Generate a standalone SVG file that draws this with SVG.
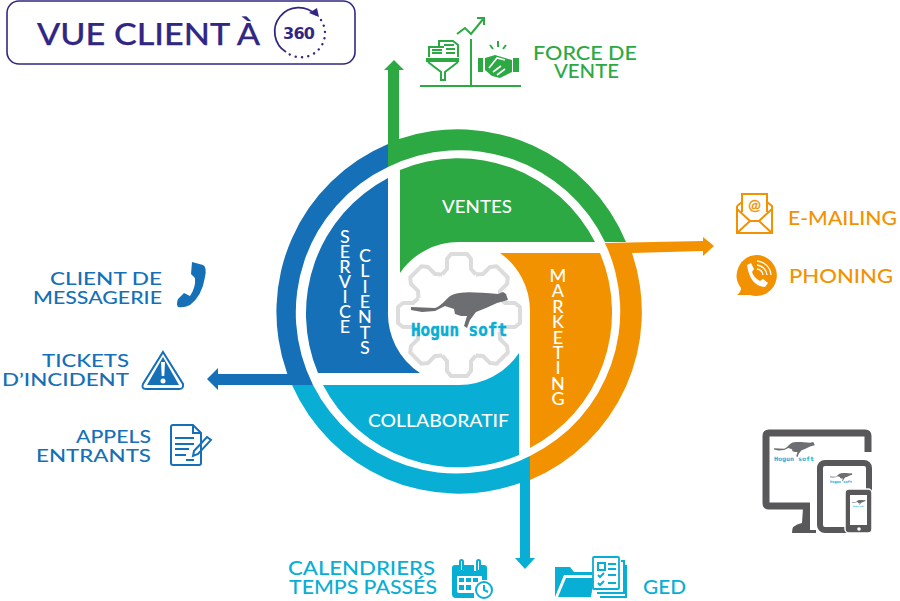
<svg xmlns="http://www.w3.org/2000/svg" xmlns:xlink="http://www.w3.org/1999/xlink" width="900" height="601" viewBox="0 0 900 601">
<style>
text{font-family:"Lato","Open Sans","Liberation Sans",sans-serif;font-weight:500}
.w{fill:#fff;font-size:17.500px}
.v{fill:#fff;font-size:18px;text-anchor:middle}
.g{fill:#2ca942}.b{fill:#1570b8}.o{fill:#f39200}.c{fill:#09aed4}
.lb{font-size:18px;fill:#1570b8;text-anchor:end}
.lg{font-size:19px;fill:#2ca942}
.lo{font-size:20px;fill:#f39200}
.lc{font-size:18.500px;fill:#09aed4}
.sb{stroke:#1570b8;fill:none;stroke-width:2}
.sg{stroke:#2ca942;fill:none;stroke-width:2}
.so{stroke:#f39200;fill:none;stroke-width:2}
.sc{stroke:#09aed4;fill:none;stroke-width:2}
.logo{font-family:"DejaVu Sans Mono",monospace;font-weight:700;fill:#09aed4}
.d{fill:none;stroke:#58585a;stroke-linejoin:round}
.t{fill:none;stroke:#dcdcdc;stroke-width:4;stroke-linejoin:round}
</style>
<defs>
<path id="cheetah" fill="#6d6e71" d="M411,307L435,308C442,306 446,298 452,295C460,291 475,292 498,294L503,292L506,294L508,300L497,303L486,308L476,312L470,320L467,328L464,326L467,316L461,316L455,314L454,309L445,306L435,311L422,312L411,310Z"/>
<path id="tooth" d="M-16.800,-40.600L-12,-46V-56L-8,-61H8L12,-56V-46L16.800,-40.600"/>
</defs>

<g id="title">
<rect x="7" y="1" width="348" height="63" rx="12" fill="#fff" stroke="#312783" stroke-width="1.600"/>
<text x="37" y="45" font-size="31" fill="#312783" stroke="#312783" stroke-width=".25" textLength="223" lengthAdjust="spacingAndGlyphs">VUE CLIENT À</text>
<path d="M286,52A24,24 0 1 1 316,15" fill="none" stroke="#312783" stroke-width="1.800"/>
<path d="M321,20A24,24 0 0 1 286,52" fill="none" stroke="#312783" stroke-width="2.400" stroke-linecap="round" stroke-dasharray=".1 6.200"/>
<path d="M309,13L319,17L317,8Z" fill="#312783"/>
<text x="299" y="39" font-size="16" fill="#312783" text-anchor="middle" style="font-family:'DejaVu Sans',sans-serif;font-weight:700" textLength="32">360</text>
</g>

<g id="connectors">
<path class="g" d="M388,167V70H384L394,60L404,70H399V145H388Z"/>
<path class="o" d="M605,243L703,241V237L714,246L703,256V251L632,253L612,256Z"/>
<path class="c" d="M520,478H530V558H535L525,569L515,558H520Z"/>
<path class="b" d="M300,374H218V368L207,379L218,390V385H305Z"/>
</g>

<g id="ring-ventes"><path class="g" d="M399,139A182,182 0 0 1 626,242H605A161,161 0 0 0 388,167V145H399Z"/></g>
<g id="ring-service"><path class="b" d="M388,144A182,182 0 0 0 287,373L292,385H313A161,161 0 0 1 388,167Z"/></g>
<g id="ring-collaboratif"><path class="c" d="M292,385A182,182 0 0 0 520,483H530V456A161,161 0 0 1 313,385Z"/></g>
<g id="ring-marketing"><path class="o" d="M605,243L632,253A182,182 0 0 1 530,480V456A161,161 0 0 0 605,243Z"/></g>

<g id="ventes">
<path class="g" d="M400,170A153,153 0 0 1 595,242H459A71,71 0 0 0 400,273Z"/>
<text class="w" x="442" y="213" textLength="70" lengthAdjust="spacingAndGlyphs">VENTES</text>
</g>
<g id="marketing">
<path class="o" d="M500,253H600A153,153 0 0 1 530,448V311A71,71 0 0 0 500,253Z"/>
<text class="v" x="558 558 558 558 558 558 558 558 558" y="282 297.400 312.800 328.200 343.600 359 374.400 389.800 405">MARKETING</text>
</g>
<g id="collaboratif">
<path class="c" d="M519,353V455A153,153 0 0 1 323,385H459A72,72 0 0 0 519,353Z"/>
<text class="w" x="368" y="427" textLength="141" lengthAdjust="spacingAndGlyphs">COLLABORATIF</text>
</g>
<g id="service-clients">
<path class="b" d="M388,178V311A71,71 0 0 0 420,373H318A153,153 0 0 1 388,178Z"/>
<text class="v" x="345 345 345 345 345 345 345" y="243 258 273 288 303 318 333">SERVICE</text>
<text class="v" x="365 365 365 365 365 365 365" y="262 277.300 292.600 307.900 323.200 338.500 354">CLIENTS</text>
</g>

<g id="logo">
<g transform="translate(459,315)" class="t">
<use xlink:href="#tooth" href="#tooth"/>
<use xlink:href="#tooth" href="#tooth" transform="rotate(45)"/>
<use xlink:href="#tooth" href="#tooth" transform="rotate(90)"/>
<use xlink:href="#tooth" href="#tooth" transform="rotate(135)"/>
<use xlink:href="#tooth" href="#tooth" transform="rotate(180)"/>
<use xlink:href="#tooth" href="#tooth" transform="rotate(225)"/>
<use xlink:href="#tooth" href="#tooth" transform="rotate(270)"/>
<use xlink:href="#tooth" href="#tooth" transform="rotate(315)"/>
</g>
<use xlink:href="#cheetah" href="#cheetah"/>
<text class="logo" x="411" y="336" font-size="18" stroke="#09aed4" stroke-width=".5" textLength="96" lengthAdjust="spacingAndGlyphs">Hogun soft</text>
</g>

<g id="force-de-vente">
<path class="sg" d="M420,86H521M471,39V86M457,34L465,28L471,34L484,18M477,18H484V25"/>
<path class="g" d="M426,58H459V62H426Z"/>
<path class="sg" stroke-width="1.500" d="M428,62L441,72V80H445V72L458,62"/>
<path class="sg" stroke-width="1.500" d="M429,57V47H444M439,47V41H453L458,45V57M432,50H442M432,53H442M444,45H454M446,49H455M446,53H455"/>
<path class="g" d="M478,58H483V72H478ZM513,58H519V72H513ZM485,58L495,55L505,58L512,60V72L500,78L492,76L485,70Z"/>
<path d="M489,68L497,58L505,60M493,72L501,66M497,75L505,69" stroke="#fff" stroke-width="1.600" fill="none"/>
<path class="sg" d="M498,41V47M490,45L493,49M506,45L503,49"/>
<text class="lg" x="533" y="60" textLength="104" lengthAdjust="spacingAndGlyphs">FORCE DE</text>
<text class="lg" x="554" y="78" textLength="65" lengthAdjust="spacingAndGlyphs">VENTE</text>
</g>

<g id="e-mailing">
<path class="so" d="M742,212V194H767V212M737,206V233H772V206L767,202M742,202L737,206M737,233L750,221H759L772,233M737,209L750,221M772,209L759,221"/>
<text x="754.500" y="210" font-size="15" fill="#f39200" stroke="#f39200" stroke-width=".3" text-anchor="middle">@</text>
<text class="lo" x="788" y="225" textLength="109" lengthAdjust="spacingAndGlyphs">E-MAILING</text>
</g>
<g id="phoning">
<path class="o" d="M756,255A20.500,20.500 0 1 1 750,295L737,295Q741,292 741,288A20.500,20.500 0 0 1 756,255Z"/>
<path d="M747,265L751,263L754,269L752,272Q754,278 760,281L763,279L768,283L765,287Q750,286 747,265Z" fill="#fff"/>
<path d="M757,265A11,11 0 0 1 767,275M757,261A15,15 0 0 1 771,275M757,269A7,7 0 0 1 763,275" fill="none" stroke="#fff" stroke-width="1.300"/>
<text class="lo" x="789" y="283" textLength="104" lengthAdjust="spacingAndGlyphs">PHONING</text>
</g>

<g id="client-messagerie">
<path class="b" d="M192,262L203,265Q207,267 205,277Q202,296 190,305Q184,308 178,307Q176,304 178,299L184,293L190,296Q196,287 195,278L191,274Z"/>
<text class="lb" x="162" y="285" textLength="112" lengthAdjust="spacingAndGlyphs">CLIENT DE</text>
<text class="lb" x="162" y="304" textLength="129" lengthAdjust="spacingAndGlyphs">MESSAGERIE</text>
</g>
<g id="tickets">
<path class="sb" d="M163,352L183,384Q184,389 179,389H146Q141,389 143,384Z"/>
<path class="b" d="M163,357L179,385H147Z"/>
<path d="M161,362H165L164.300,376H161.700Z" fill="#fff"/><circle cx="163" cy="381" r="2.500" fill="#fff"/>
<text class="lb" x="129" y="367" textLength="87" lengthAdjust="spacingAndGlyphs">TICKETS</text>
<text class="lb" x="129" y="386" textLength="127" lengthAdjust="spacingAndGlyphs">D’INCIDENT</text>
</g>
<g id="appels">
<path class="sb" d="M193,425H173Q171,425 171,427V463Q171,465 173,465H199Q201,465 201,463V433ZM193,425V433H201M175,438H194M175,444H194M175,449H189M175,455H186M186,460H194"/>
<path class="sb" d="M194,451L207,437L211,440L198,454L193,456Z"/>
<text class="lb" x="151" y="443" textLength="75" lengthAdjust="spacingAndGlyphs">APPELS</text>
<text class="lb" x="151" y="462" textLength="115" lengthAdjust="spacingAndGlyphs">ENTRANTS</text>
</g>

<g id="calendriers">
<path class="c" d="M455,565H459V571H464V565H474V571H479V565H484Q487,565 487,568V580H482V576H457V591Q457,593 459,593H474V598H456Q452,598 452,594V568Q452,565 455,565Z"/>
<rect class="sc" x="460" y="560" width="3" height="11" rx="1.500" stroke-width="1.500"/>
<rect class="sc" x="477" y="560" width="3" height="11" rx="1.500" stroke-width="1.500"/>
<path class="c" d="M459,578H464V582H459ZM466,578H471V582H466ZM473,578H478V582H473ZM459,585H464V590H459ZM466,585H471V590H466Z"/>
<circle cx="484" cy="590" r="8" fill="#fff" stroke="#09aed4" stroke-width="2"/>
<path class="sc" stroke-width="1.500" d="M484,585V590L488,592"/>
<text class="lc" x="288" y="575" textLength="147" lengthAdjust="spacingAndGlyphs">CALENDRIERS</text>
<text class="lc" x="289" y="594" textLength="148" lengthAdjust="spacingAndGlyphs">TEMPS PASSÉS</text>
</g>
<g id="ged">
<path class="c" d="M555,597V567H570L574,572H592V575H564L555,597Z"/>
<path class="c" d="M566,578H594L591,597H558Z"/>
<path class="sc" stroke-width="1.500" d="M621,561H624V593H597M626,565V597H600"/>
<rect x="593" y="557" width="26" height="32" fill="#fff" stroke="#09aed4" stroke-width="1.800" rx="1"/>
<path class="sc" stroke-width="1.500" d="M598,563H605V570H598ZM608,564H616M608,569H616M598,575L600,577L604,573M598,583L600,585L604,581M608,575H616M608,583H616"/>
<text class="lc" x="643" y="594" textLength="43" lengthAdjust="spacingAndGlyphs">GED</text>
</g>

<g id="devices">
<path class="d" stroke-width="7" d="M868,452V436Q868,433 865,433H769Q766,433 766,436V503Q766,506 769,506H810"/>
<path fill="#58585a" d="M803,508H810V530H816V533H792Q791,525 802,523Z"/>
<rect class="d" x="820" y="463" width="49" height="67" rx="5" stroke-width="6" fill="#fff"/>
<rect x="845" y="489" width="27" height="44" rx="4" fill="#58585a" stroke="#fff" stroke-width="1.500"/>
<rect x="850" y="495" width="17" height="30" fill="#fff"/>
<circle cx="859" cy="529" r="1.800" fill="#fff"/>
<use xlink:href="#cheetah" href="#cheetah" transform="translate(774,442) scale(.42,.42) translate(-411,-292)"/>
<use xlink:href="#cheetah" href="#cheetah" transform="translate(830,473) scale(.23,.23) translate(-411,-292)"/>
<use xlink:href="#cheetah" href="#cheetah" transform="translate(852,500) scale(.14,.14) translate(-411,-292)"/>
<text class="logo" x="774" y="461" font-size="6" textLength="40" lengthAdjust="spacingAndGlyphs">Hogun soft</text>
<text class="logo" x="830" y="483" font-size="3.500" textLength="22" lengthAdjust="spacingAndGlyphs">Hogun soft</text>
<text class="logo" x="853" y="506.500" font-size="2" textLength="11" lengthAdjust="spacingAndGlyphs">Hogun soft</text>
</g>
</svg>
